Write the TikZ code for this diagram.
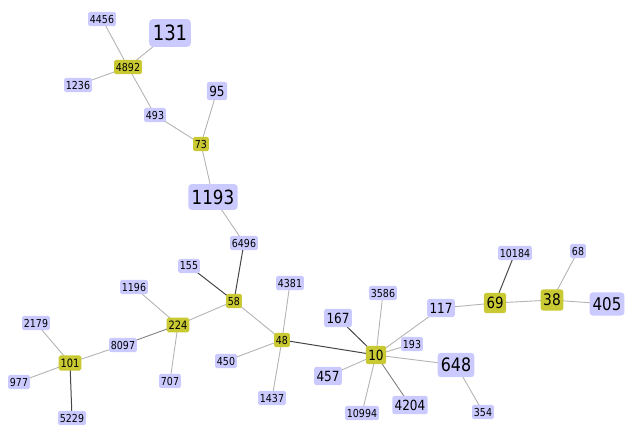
\documentclass[tikz,border=0pt]{standalone}
\usepackage{fontspec}
\setmainfont[FakeStretch=0.86]{DejaVu Sans}
\usetikzlibrary{backgrounds}
\definecolor{lav}{HTML}{CACAFF}
\definecolor{yel}{HTML}{C9C933}
\definecolor{elight}{HTML}{B4B4B4}
\definecolor{emid}{HTML}{808080}
\definecolor{edark}{HTML}{454545}
\tikzset{
  nd/.style={rounded corners={0.17*#1pt}, inner xsep={0.17*#1pt}, inner ysep={0.28*#1pt}, text=black, font=\fontsize{#1}{#1}\selectfont},
  bn/.style={nd=#1, fill=lav},
  yn/.style={nd=#1, fill=yel},
  el/.style={draw=elight, line width=0.9pt},
  em/.style={draw=emid, line width=0.9pt},
  ed/.style={draw=edark, line width=1pt},
}
\begin{document}
\begin{tikzpicture}[x=1pt,y=-1pt]
\useasboundingbox (0,0) rectangle (630,436);
\node[bn=11] (n4456) at (102,19) {4456};
\node[bn=21] (n131) at (170,33) {131};
\node[yn=11] (n4892) at (128,67) {4892};
\node[bn=11] (n1236) at (78,85) {1236};
\node[bn=14] (n95) at (217,91) {95};
\node[bn=11] (n493) at (155,115) {493};
\node[yn=11] (n73) at (201,144) {73};
\node[bn=19.5] (n1193) at (213,197) {1193};
\node[bn=11] (n6496) at (244,243) {6496};
\node[bn=11] (n155) at (189,266) {155};
\node[yn=11] (n58) at (234,301) {58};
\node[bn=11] (n1196) at (134,287) {1196};
\node[yn=11.5] (n224) at (178,325) {224};
\node[bn=11] (n4381) at (290,283) {4381};
\node[bn=11] (n2179) at (36,323) {2179};
\node[bn=11] (n8097) at (123,345) {8097};
\node[yn=11.5] (n101) at (70,363) {101};
\node[yn=11] (n48) at (282,340) {48};
\node[bn=11] (n450) at (226,361) {450};
\node[bn=11] (n977) at (19,382) {977};
\node[bn=11] (n707) at (170,381) {707};
\node[bn=11] (n1437) at (272,398) {1437};
\node[bn=11] (n5229) at (72,418) {5229};
\node[bn=11] (n3586) at (383,293) {3586};
\node[bn=14] (n167) at (338,318) {167};
\node[bn=14] (n117) at (441,308) {117};
\node[bn=11] (n193) at (412,344) {193};
\node[yn=14] (n10) at (376,355) {10};
\node[bn=18.5] (n648) at (456,365) {648};
\node[bn=14] (n457) at (328,376) {457};
\node[bn=11] (n10994) at (362,413) {10994};
\node[bn=14] (n4204) at (410,405) {4204};
\node[bn=11] (n354) at (483,412) {354};
\node[bn=11] (n10184) at (515,253) {10184};
\node[bn=11] (n68) at (578,251) {68};
\node[yn=15.5] (n69) at (495,303) {69};
\node[yn=16] (n38) at (552,300) {38};
\node[bn=17.5] (n405) at (607,304) {405};
\begin{scope}[on background layer]
\draw[el] (n4456.center) -- (n4892.center);
\draw[el] (n131.center) -- (n4892.center);
\draw[el] (n1236.center) -- (n4892.center);
\draw[el] (n4892.center) -- (n493.center);
\draw[el] (n493.center) -- (n73.center);
\draw[el] (n95.center) -- (n73.center);
\draw[el] (n73.center) -- (n1193.center);
\draw[el] (n1193.center) -- (n6496.center);
\draw[ed] (n6496.center) -- (n58.center);
\draw[ed] (n155.center) -- (n58.center);
\draw[el] (n58.center) -- (n224.center);
\draw[el] (n58.center) -- (n48.center);
\draw[el] (n1196.center) -- (n224.center);
\draw[em] (n224.center) -- (n8097.center);
\draw[el] (n224.center) -- (n707.center);
\draw[el] (n8097.center) -- (n101.center);
\draw[el] (n2179.center) -- (n101.center);
\draw[el] (n977.center) -- (n101.center);
\draw[ed] (n5229.center) -- (n101.center);
\draw[el] (n4381.center) -- (n48.center);
\draw[el] (n450.center) -- (n48.center);
\draw[el] (n1437.center) -- (n48.center);
\draw[ed] (n48.center) -- (n10.center);
\draw[el] (n10.center) -- (n3586.center);
\draw[ed] (n10.center) -- (n167.center);
\draw[el] (n10.center) -- (n117.center);
\draw[el] (n10.center) -- (n193.center);
\draw[el] (n10.center) -- (n648.center);
\draw[el] (n10.center) -- (n457.center);
\draw[el] (n10.center) -- (n10994.center);
\draw[em] (n10.center) -- (n4204.center);
\draw[el] (n648.center) -- (n354.center);
\draw[el] (n117.center) -- (n69.center);
\draw[ed] (n69.center) -- (n10184.center);
\draw[el] (n69.center) -- (n38.center);
\draw[el] (n38.center) -- (n68.center);
\draw[el] (n38.center) -- (n405.center);
\end{scope}
\end{tikzpicture}
\end{document}
